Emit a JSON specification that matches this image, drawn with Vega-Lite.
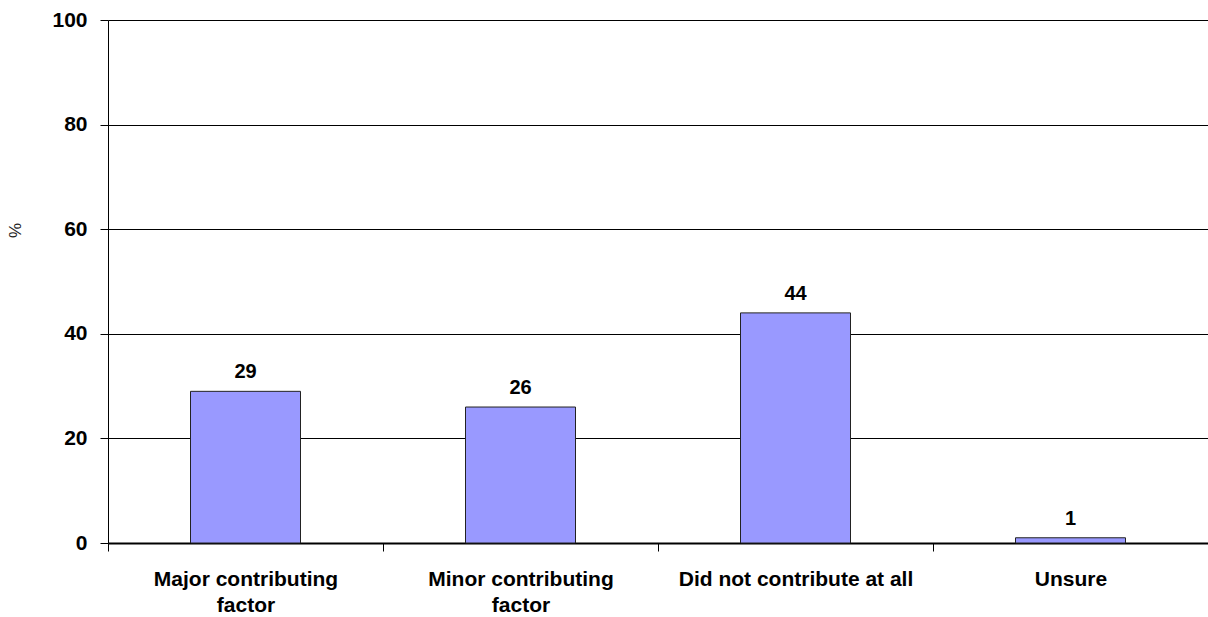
{
  "$schema": "https://vega.github.io/schema/vega-lite/v6.json",
  "width": 1100,
  "height": 523,
  "autosize": "none",
  "padding": {"left": 108, "top": 20, "right": 0, "bottom": 74},
  "config": {
    "view": {"stroke": null},
    "font": "Liberation Sans"
  },
  "data": {
    "values": [
      {"response": "Major contributing factor", "pct": 29},
      {"response": "Minor contributing factor", "pct": 26},
      {"response": "Did not contribute at all", "pct": 44},
      {"response": "Unsure", "pct": 1}
    ]
  },
  "encoding": {
    "x": {
      "field": "response",
      "type": "nominal",
      "sort": null,
      "scale": {"paddingInner": 0, "paddingOuter": 0},
      "axis": {
        "title": null,
        "labelAngle": 0,
        "tickBand": "extent",
        "tickSize": 8,
        "tickColor": "#000000",
        "domainColor": "#000000",
        "domainWidth": 2,
        "labelFont": "Liberation Sans",
        "labelFontSize": 21,
        "labelFontWeight": "bold",
        "labelColor": "#000000",
        "labelLineHeight": 26,
        "labelPadding": 17,
        "labelLimit": 300,
        "labelExpr": "datum.value == 'Major contributing factor' ? ['Major contributing', 'factor'] : datum.value == 'Minor contributing factor' ? ['Minor contributing', 'factor'] : datum.value"
      }
    },
    "y": {
      "field": "pct",
      "type": "quantitative",
      "scale": {"domain": [0, 100], "nice": false},
      "axis": {
        "values": [0, 20, 40, 60, 80, 100],
        "grid": true,
        "gridColor": "#000000",
        "gridOpacity": 1,
        "gridWidth": 1,
        "tickSize": 8,
        "tickColor": "#000000",
        "domainColor": "#000000",
        "labelFont": "Liberation Sans",
        "labelFontSize": 21,
        "labelFontWeight": "bold",
        "labelColor": "#000000",
        "labelPadding": 13,
        "title": "%",
        "titleFont": "Liberation Sans",
        "titleFontSize": 17,
        "titleFontWeight": "normal",
        "titleColor": "#222222",
        "titleAngle": 270,
        "titleAlign": "center",
        "titleBaseline": "middle",
        "titleX": -93,
        "titleY": 210
      }
    }
  },
  "layer": [
    {
      "mark": {
        "type": "bar",
        "width": {"band": 0.4},
        "fill": "#9999ff",
        "stroke": "#222222",
        "strokeWidth": 1
      }
    },
    {
      "mark": {
        "type": "text",
        "baseline": "alphabetic",
        "dy": -13,
        "font": "Liberation Sans",
        "fontSize": 20,
        "fontWeight": "bold",
        "color": "#000000"
      },
      "encoding": {"text": {"field": "pct", "type": "quantitative"}}
    }
  ]
}
